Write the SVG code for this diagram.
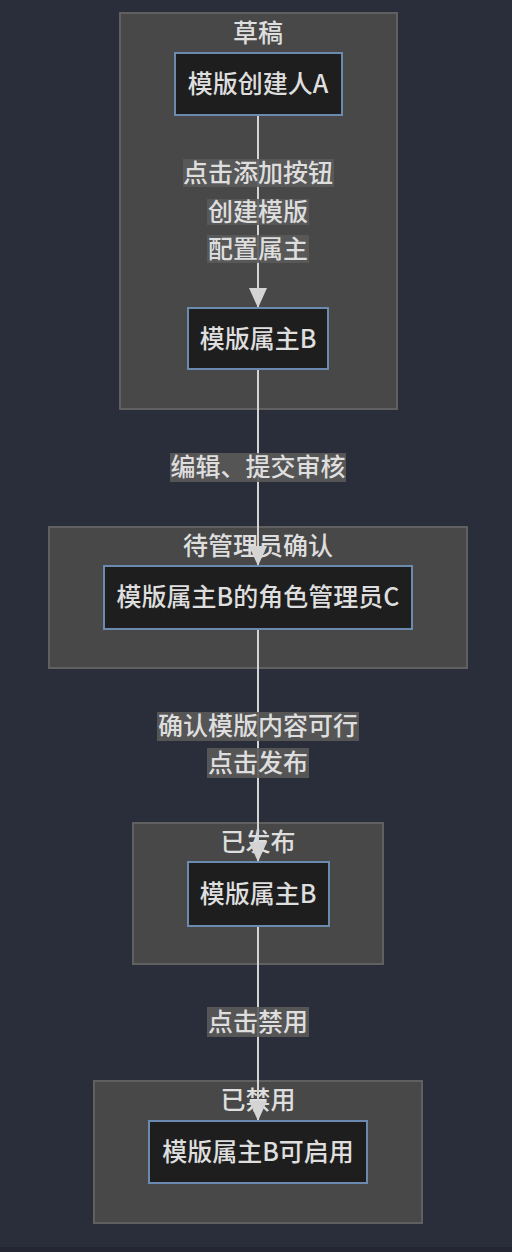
<svg xmlns="http://www.w3.org/2000/svg" width="512" height="1252" viewBox="0 0 512 1252">
<defs>
<style>
.t{font-family:"Noto Sans CJK SC","Liberation Sans",sans-serif;font-size:25px;font-weight:500;fill:#dedede;text-anchor:middle;dominant-baseline:central}
.cl{fill:#484848;stroke:#606060;stroke-width:2}
.nd{fill:#1e1e1e;stroke:#6a8ab0;stroke-width:2}
.ed{stroke:#d4d4d4;stroke-width:2;fill:none;marker-end:url(#ah)}
.lb{fill:#5a5a5a;fill-opacity:0.9}
</style>
<marker id="ah" markerUnits="userSpaceOnUse" markerWidth="20" markerHeight="20" viewBox="0 0 20 20" refX="20" refY="10" orient="auto">
<path d="M0,1 L20,10 L0,19 z" fill="#d4d4d4"/>
</marker>
</defs>
<rect x="0" y="0" width="512" height="1252" fill="#2a2e3b"/>
<rect x="0" y="1247" width="512" height="5" fill="#242733"/>

<g id="cluster-draft">
<rect class="cl" x="120" y="13" width="277" height="396"/>
<text class="t" x="258" y="31">草稿</text>
</g>
<g id="cluster-pending">
<rect class="cl" x="49" y="527" width="418" height="141"/>
<text class="t" x="258" y="544">待管理员确认</text>
</g>
<g id="cluster-published">
<rect class="cl" x="133" y="823" width="250" height="141"/>
<text class="t" x="258" y="840">已发布</text>
</g>
<g id="cluster-disabled">
<rect class="cl" x="94" y="1081" width="328" height="142"/>
<text class="t" x="258" y="1098">已禁用</text>
</g>

<g id="connectors">
<line class="ed" x1="258" y1="115" x2="258" y2="308"/>
<line class="ed" x1="258" y1="369" x2="258" y2="566"/>
<line class="ed" x1="258" y1="629" x2="258" y2="862"/>
<line class="ed" x1="258" y1="926" x2="258" y2="1121"/>
<g id="edge-labels">
<rect class="lb" x="183" y="159" width="151" height="28"/>
<text class="t" x="258" y="171">点击添加按钮</text>
<rect class="lb" x="207" y="199" width="102" height="26"/>
<text class="t" x="258" y="210">创建模版</text>
<rect class="lb" x="207" y="235" width="102" height="28"/>
<text class="t" x="258" y="247">配置属主</text>
<rect class="lb" x="170" y="453" width="176" height="29"/>
<text class="t" x="258" y="465">编辑、提交审核</text>
<rect class="lb" x="157" y="712" width="202" height="29"/>
<text class="t" x="258" y="724">确认模版内容可行</text>
<rect class="lb" x="207" y="748" width="102" height="30"/>
<text class="t" x="258" y="761">点击发布</text>
<rect class="lb" x="207" y="1007" width="102" height="30"/>
<text class="t" x="258" y="1020">点击禁用</text>
</g>
</g>

<g id="node-creatorA">
<rect class="nd" x="175" y="53" width="167" height="62"/>
<text class="t" x="258" y="82">模版创建人A</text>
</g>
<g id="node-ownerB-draft">
<rect class="nd" x="188" y="308" width="140" height="61"/>
<text class="t" x="258" y="337">模版属主B</text>
</g>
<g id="node-adminC">
<rect class="nd" x="104" y="566" width="308" height="63"/>
<text class="t" x="258" y="595">模版属主B的角色管理员C</text>
</g>
<g id="node-ownerB-published">
<rect class="nd" x="188" y="862" width="141" height="64"/>
<text class="t" x="258" y="892">模版属主B</text>
</g>
<g id="node-ownerB-disabled">
<rect class="nd" x="149" y="1121" width="218" height="62"/>
<text class="t" x="258" y="1150">模版属主B可启用</text>
</g>
</svg>
